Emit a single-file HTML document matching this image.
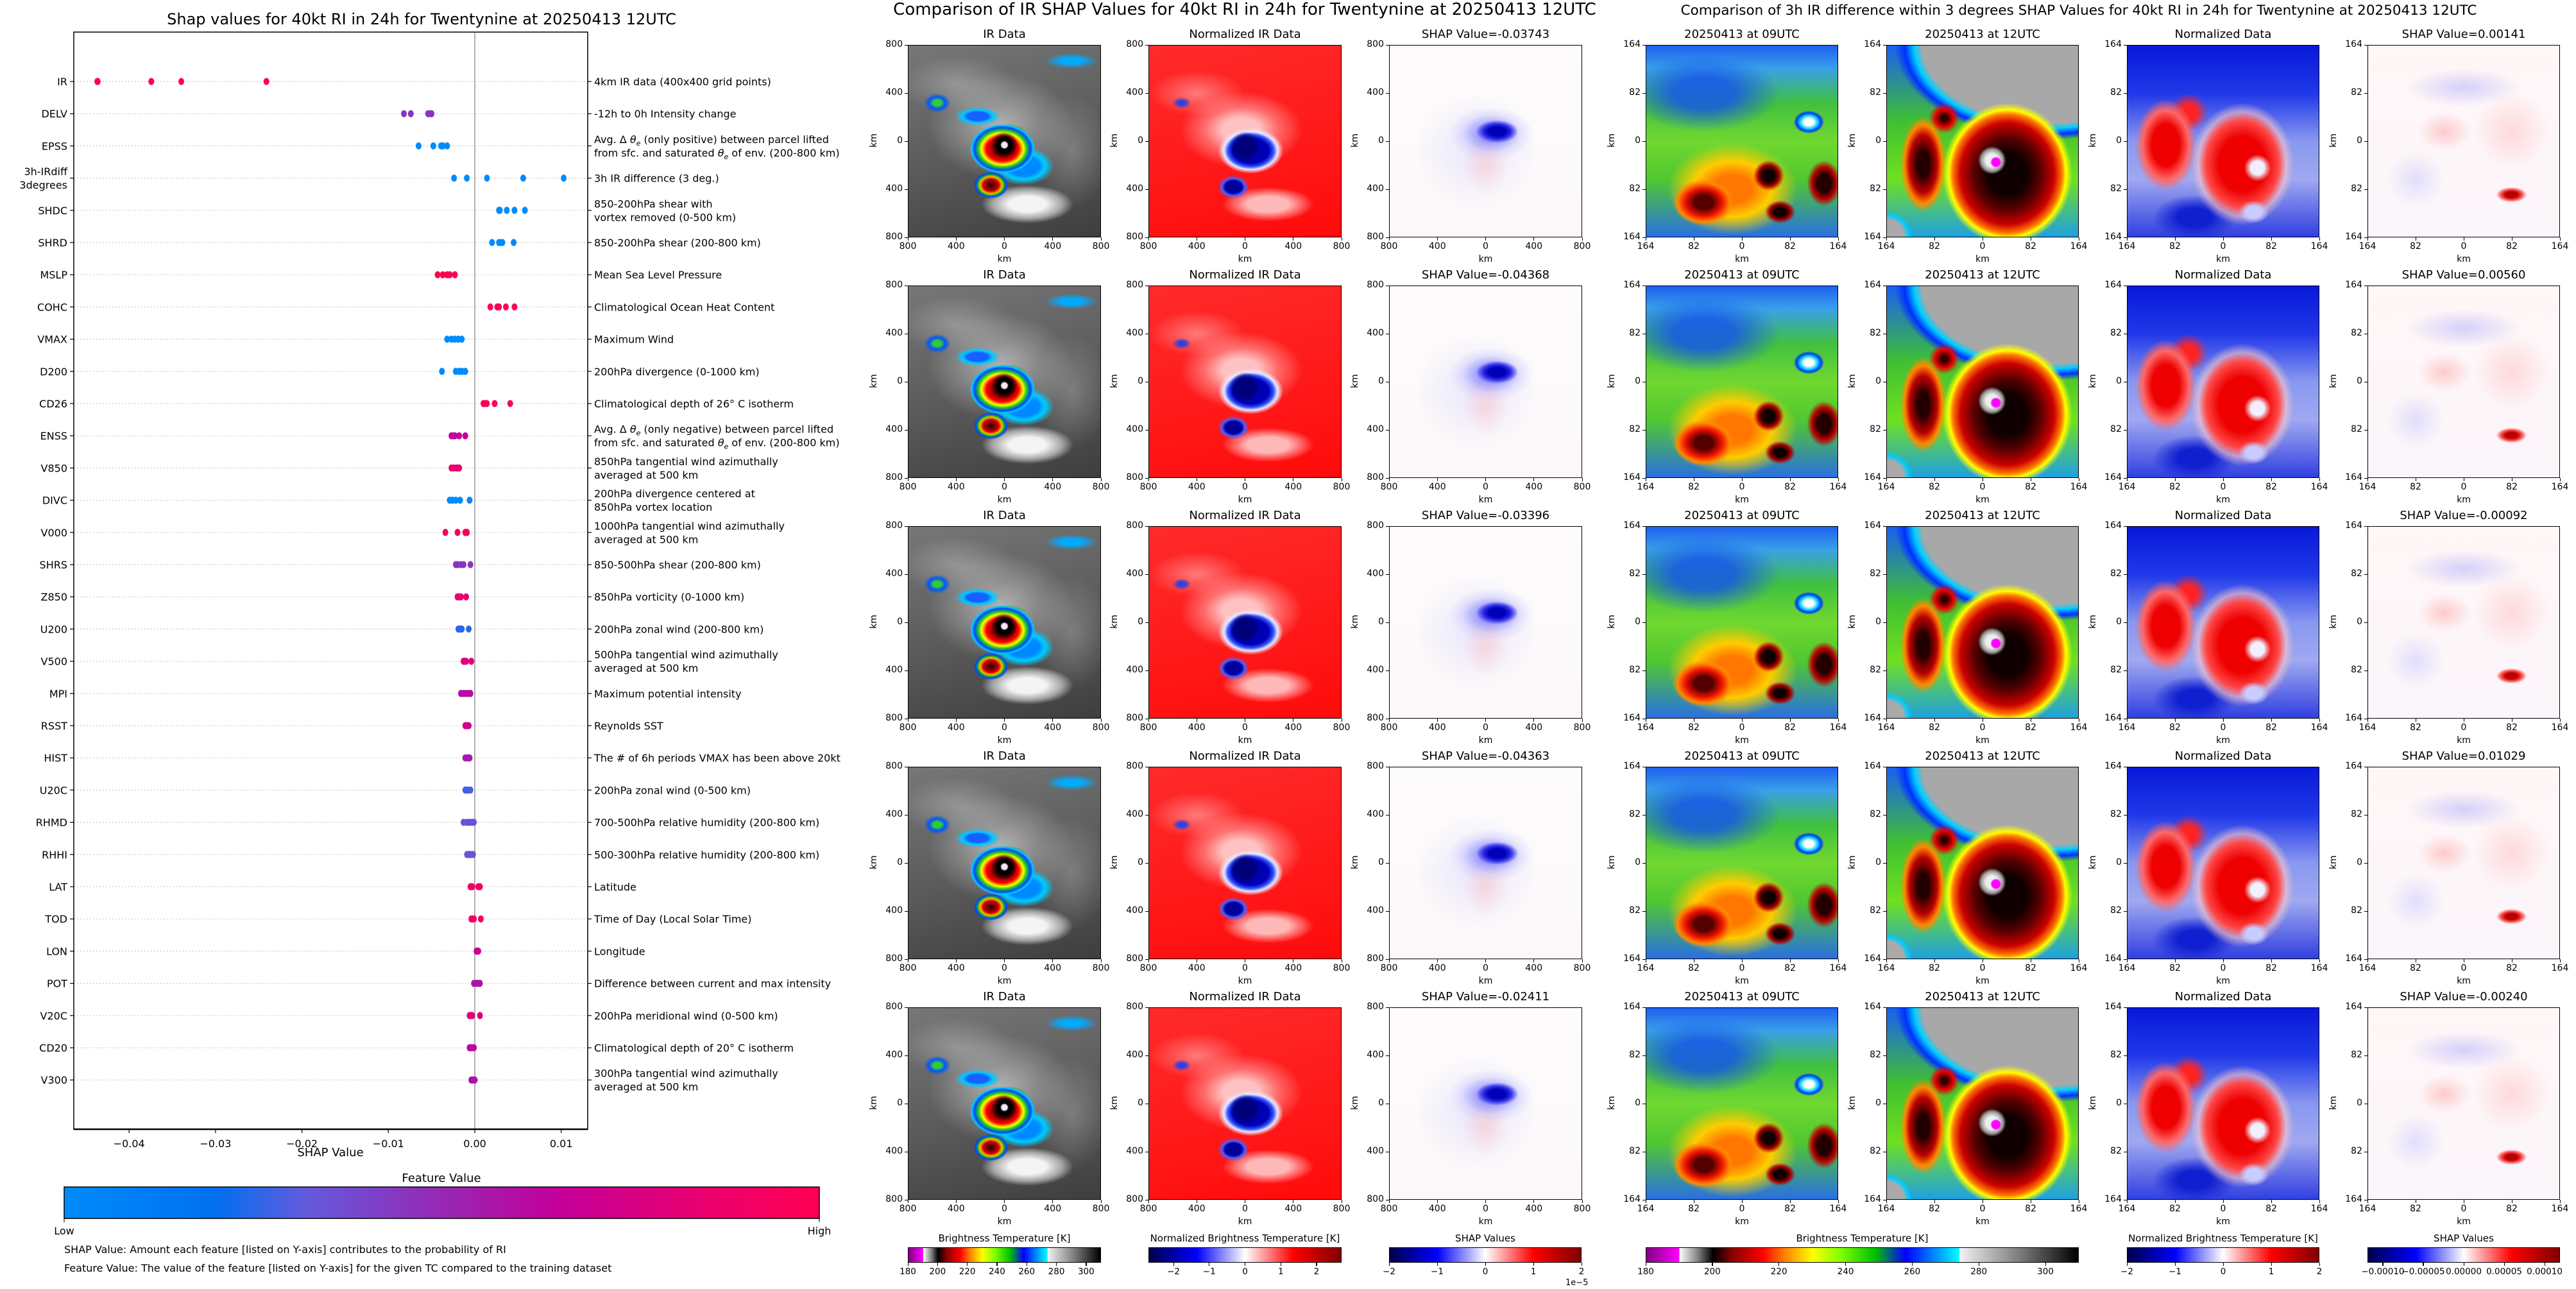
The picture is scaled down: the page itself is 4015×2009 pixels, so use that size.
<!DOCTYPE html>
<html><head><meta charset="utf-8">
<style>
html,body{margin:0;padding:0;background:#fff;}
#page{position:relative;width:4015px;height:2009px;overflow:hidden;font-family:"DejaVu Sans","Liberation Sans",sans-serif;color:#000;}
.abs{position:absolute;}
.panel{position:absolute;box-sizing:border-box;border:1.5px solid #000;}
.ttl{position:absolute;text-align:center;white-space:nowrap;}
.tick{position:absolute;background:#000;}
.tl{position:absolute;font-size:14px;white-space:nowrap;}
.ir{background:
 radial-gradient(circle at 50% 52%, #f4e8f4 0 2%, transparent 3%),
 radial-gradient(ellipse 7% 7% at 50% 52%, #000 0 55%, transparent 100%),
 radial-gradient(ellipse 17% 13% at 49% 54%, #300 0%, #900 30%, #f00 50%, #ff0 64%, #2c2 74%, #04f 86%, #0cf 94%, transparent 100%),
 radial-gradient(ellipse 9% 7% at 43% 73%, #200 0, #c00 45%, #fb0 65%, #1b1 75%, #04f 88%, transparent 100%),
 radial-gradient(ellipse 12% 5% at 36% 37%, #1560ff 0 45%, #00c8ff 65%, transparent 100%),
 radial-gradient(ellipse 10% 5% at 52% 46%, #1560ff 0 40%, #0a0 55%, transparent 100%),
 radial-gradient(ellipse 16% 10% at 60% 63%, #08f 0 50%, #0cf 70%, transparent 100%),
 radial-gradient(ellipse 7% 5% at 15% 30%, #3c3 0 30%, #05f 60%, transparent 100%),
 radial-gradient(ellipse 14% 4% at 85% 8%, #0af 0 40%, transparent 100%),
 radial-gradient(ellipse 24% 10% at 62% 83%, #f4f4f4 0 40%, rgba(255,255,255,0.5) 75%, transparent 100%),
 radial-gradient(ellipse 38% 28% at 48% 42%, rgba(235,235,235,0.6), transparent 100%),
 radial-gradient(ellipse 30% 15% at 25% 20%, rgba(210,210,210,0.4), transparent 100%),
 radial-gradient(ellipse 20% 30% at 85% 55%, rgba(200,200,200,0.35), transparent 100%),
 linear-gradient(165deg,#777 0%,#5c5c5c 50%,#3e3e3e 100%);}
.nir{background:
 radial-gradient(ellipse 8% 8% at 50% 53%, #00007a 0 60%, transparent 100%),
 radial-gradient(ellipse 17% 12% at 53% 55%, #0000b4 0 55%, #3050ff 70%, #e8e8ff 82%, transparent 100%),
 radial-gradient(ellipse 8% 6% at 44% 74%, #00009a 0 55%, #5060ff 75%, transparent 100%),
 radial-gradient(ellipse 5% 3% at 17% 30%, #3040e0 0 40%, transparent 100%),
 radial-gradient(ellipse 24% 9% at 62% 83%, #ffb8b8 0 45%, transparent 100%),
 radial-gradient(ellipse 32% 20% at 48% 44%, rgba(255,235,235,0.8) 0 30%, rgba(255,200,200,0.45) 60%, transparent 100%),
 radial-gradient(ellipse 25% 12% at 25% 25%, rgba(255,210,210,0.5), transparent 100%),
 linear-gradient(165deg,#ff2a2a 0%,#ff1818 60%,#ff0a0a 100%);}
.sir{background:
 radial-gradient(ellipse 11% 6% at 56% 45%, #0000b8 0 40%, #2a2ae6 65%, transparent 100%),
 radial-gradient(ellipse 22% 14% at 53% 46%, rgba(90,90,255,0.55) 0 30%, rgba(150,150,255,0.2) 70%, transparent 100%),
 radial-gradient(ellipse 12% 16% at 50% 62%, rgba(255,170,170,0.35), transparent 100%),
 radial-gradient(ellipse 32% 30% at 45% 55%, rgba(180,180,255,0.28), transparent 100%),
 linear-gradient(#fdfbfc,#fcf8fa);}
.t09{background:
 radial-gradient(ellipse 8% 8% at 64% 68%, #100 0 40%, #a00 70%, transparent 100%),
 radial-gradient(ellipse 8% 6% at 70% 87%, #100 0 40%, #a00 70%, transparent 100%),
 radial-gradient(ellipse 9% 12% at 93% 72%, #200 0 40%, #b00 70%, transparent 100%),
 radial-gradient(ellipse 16% 12% at 30% 82%, #500 0 30%, #e10 60%, #f80 85%, transparent 100%),
 radial-gradient(ellipse 34% 24% at 45% 75%, #f70 0 30%, #fc0 60%, transparent 100%),
 radial-gradient(ellipse 8% 6% at 85% 40%, #fff 0 30%, #0cf 60%, #03f 80%, transparent 100%),
 radial-gradient(ellipse 40% 20% at 30% 25%, rgba(20,80,240,0.8) 0 40%, transparent 100%),
 linear-gradient(180deg,#1e60f0 0%,#3aa0e8 12%,#40c040 30%,#70d830 50%,#50c830 70%,#2a70e0 100%);}
.t12{background:
 radial-gradient(circle at 57% 61%, #f0f 0 2.5%, transparent 3.5%),
 radial-gradient(circle at 55% 60%, #eee 0 4%, #999 7%, transparent 9%),
 radial-gradient(ellipse 34% 37% at 63% 67%, #100 0 30%, #500 50%, #c00 72%, #f70 84%, #ff0 90%, transparent 100%),
 radial-gradient(ellipse 12% 25% at 19% 62%, #200 0 25%, #b00 60%, #f80 82%, transparent 100%),
 radial-gradient(ellipse 8% 8% at 30% 38%, #300 0 20%, #e00 60%, transparent 100%),
 radial-gradient(ellipse 85% 52% at 85% 0%, #a8a8a8 0 78%, #00d0ff 83%, #0030ff 89%, transparent 95%),
 radial-gradient(ellipse 15% 15% at 0% 100%, #aaa 0 60%, #0cf 75%, transparent 90%),
 linear-gradient(180deg,#1a60f0 0%,#40c030 40%,#70e020 70%,#20a0e0 100%);}
.n12{background:
 radial-gradient(ellipse 7% 7% at 68% 64%, #f0f0ff 0 50%, transparent 100%),
 radial-gradient(ellipse 8% 6% at 66% 87%, #c8ccff 0 50%, transparent 100%),
 radial-gradient(ellipse 27% 32% at 60% 62%, #e00 0 45%, #f44 70%, rgba(255,200,200,0.6) 85%, transparent 100%),
 radial-gradient(ellipse 16% 24% at 20% 52%, #e00 0 45%, #f66 75%, transparent 100%),
 radial-gradient(ellipse 10% 10% at 32% 35%, #f22 0 40%, transparent 100%),
 radial-gradient(ellipse 22% 12% at 35% 90%, #1020d0 0 40%, transparent 100%),
 linear-gradient(180deg,#0818d8 0%,#2038e8 25%,#8898f0 50%,#a0a8f0 70%,#3040e0 100%);}
.s12{background:
 radial-gradient(ellipse 8% 4% at 75% 78%, #b00 0 40%, #f55 70%, transparent 100%),
 radial-gradient(ellipse 14% 10% at 40% 45%, rgba(255,120,120,0.35), transparent 100%),
 radial-gradient(ellipse 30% 10% at 50% 22%, rgba(120,120,255,0.3), transparent 100%),
 radial-gradient(ellipse 20% 20% at 75% 45%, rgba(255,150,150,0.3), transparent 100%),
 radial-gradient(ellipse 15% 15% at 25% 70%, rgba(150,150,255,0.25), transparent 100%),
 linear-gradient(#fff6f6,#fbf6fb);}
</style></head>
<body>
<div id="page">
<svg id="shapsvg" class="abs" style="left:0;top:0" width="1340" height="2009"></svg>
<div class="ttl" style="left:1340px;width:1200px;top:0px;font-size:26px;">Comparison of IR SHAP Values for 40kt RI in 24h for Twentynine at 20250413 12UTC</div>
<div class="ttl" style="left:2540px;width:1400px;top:4px;font-size:21.5px;">Comparison of 3h IR difference within 3 degrees SHAP Values for 40kt RI in 24h for Twentynine at 20250413 12UTC</div>
</div>
<script>
// ---------- SHAP summary data ----------
const features = ["IR","DELV","EPSS","3h-IRdiff\n3degrees","SHDC","SHRD","MSLP","COHC","VMAX","D200","CD26","ENSS","V850","DIVC","V000","SHRS","Z850","U200","V500","MPI","RSST","HIST","U20C","RHMD","RHHI","LAT","TOD","LON","POT","V20C","CD20","V300"];
const descriptions = [
"4km IR data (400x400 grid points)",
"-12h to 0h Intensity change",
"Avg. Δ θ_e (only positive) between parcel lifted\nfrom sfc. and saturated θ_e of env. (200-800 km)",
"3h IR difference (3 deg.)",
"850-200hPa shear with\nvortex removed (0-500 km)",
"850-200hPa shear (200-800 km)",
"Mean Sea Level Pressure",
"Climatological Ocean Heat Content",
"Maximum Wind",
"200hPa divergence (0-1000 km)",
"Climatological depth of 26° C isotherm",
"Avg. Δ θ_e (only negative) between parcel lifted\nfrom sfc. and saturated θ_e of env. (200-800 km)",
"850hPa tangential wind azimuthally\naveraged at 500 km",
"200hPa divergence centered at\n850hPa vortex location",
"1000hPa tangential wind azimuthally\naveraged at 500 km",
"850-500hPa shear (200-800 km)",
"850hPa vorticity (0-1000 km)",
"200hPa zonal wind (200-800 km)",
"500hPa tangential wind azimuthally\naveraged at 500 km",
"Maximum potential intensity",
"Reynolds SST",
"The # of 6h periods VMAX has been above 20kt",
"200hPa zonal wind (0-500 km)",
"700-500hPa relative humidity (200-800 km)",
"500-300hPa relative humidity (200-800 km)",
"Latitude",
"Time of Day (Local Solar Time)",
"Longitude",
"Difference between current and max intensity",
"200hPa meridional wind (0-500 km)",
"Climatological depth of 20° C isotherm",
"300hPa tangential wind azimuthally\naveraged at 500 km"];
const shapValues = [
[-0.04368,-0.04363,-0.03743,-0.03396,-0.02411],
[-0.0082,-0.0074,-0.0054,-0.0051,-0.0050],
[-0.0065,-0.0048,-0.0039,-0.0037,-0.0032],
[-0.00240,-0.00092,0.00141,0.00560,0.01029],
[0.0028,0.0037,0.0046,0.0058,0.0029],
[0.0020,0.0028,0.0032,0.0045,0.0029],
[-0.0043,-0.0037,-0.0032,-0.0029,-0.0023],
[0.0018,0.0026,0.0028,0.0036,0.0046],
[-0.0032,-0.0027,-0.0023,-0.0019,-0.0015],
[-0.0038,-0.0022,-0.0018,-0.0015,-0.0011],
[0.0010,0.0012,0.0014,0.0023,0.0041],
[-0.0027,-0.0025,-0.0023,-0.0018,-0.0011],
[-0.0027,-0.0024,-0.0021,-0.0018,-0.0020],
[-0.0029,-0.0026,-0.0022,-0.0017,-0.0006],
[-0.0034,-0.0020,-0.0011,-0.0009,-0.0010],
[-0.0022,-0.0020,-0.0016,-0.0013,-0.0005],
[-0.0020,-0.0018,-0.0016,-0.0010,-0.0019],
[-0.0019,-0.0016,-0.0015,-0.0007,-0.0017],
[-0.0013,-0.0011,-0.0010,-0.0004,-0.0012],
[-0.0016,-0.0013,-0.0010,-0.0007,-0.0005],
[-0.0011,-0.0010,-0.0009,-0.0007,-0.0010],
[-0.0011,-0.0009,-0.0007,-0.0006,-0.0008],
[-0.0011,-0.0009,-0.0008,-0.0005,-0.0010],
[-0.0013,-0.0009,-0.0006,-0.0003,-0.0001],
[-0.0009,-0.0006,-0.0004,-0.0002,-0.0007],
[-0.0005,-0.0003,0.0004,0.0006,-0.0004],
[-0.0004,-0.0001,0.0007,-0.0003,-0.0002],
[0.0002,0.0004,0.0004,0.0003,0.0003],
[-0.0001,0.0002,0.0004,0.0006,0.0003],
[-0.0006,-0.0003,0.0006,-0.0005,-0.0004],
[-0.0006,-0.0004,-0.0001,-0.0005,-0.0003],
[-0.0004,-0.0002,0.0000,-0.0003,-0.0001]];
const featureLevels = [1,0.45,0,0,0,0,1,1,0,0,1,0.65,0.85,0,0.95,0.45,0.85,0.25,0.8,0.6,0.72,0.55,0.28,0.35,0.35,0.88,0.92,0.68,0.58,0.78,0.62,0.58];
const xTicks = [-0.04,-0.03,-0.02,-0.01,0.00,0.01];
const xTickLabels = ["\u22120.04","\u22120.03","\u22120.02","\u22120.01","0.00","0.01"];

// ---------- image panel data ----------
const irShapTitles = ["-0.03743","-0.04368","-0.03396","-0.04363","-0.02411"];
const diffShapTitles = ["0.00141","0.00560","-0.00092","0.01029","-0.00240"];
const kmTicks800 = ["800","400","0","400","800"];
const kmTicks164 = ["164","82","0","82","164"];
const btTicks = [180,200,220,240,260,280,300];
const normTicksA = [-2,-1,0,1,2];
const shapTicksB = [-2,-1,0,1,2];
const shapTicksC = [-0.0001,-0.00005,0,0.00005,0.0001];
const shapTicksCLabels = ["\u22120.00010","\u22120.00005","0.00000","0.00005","0.00010"];

const NS = "http://www.w3.org/2000/svg";
const svg = document.getElementById('shapsvg');
function sv(tag, attrs, parent){const e=document.createElementNS(NS,tag);for(const k in attrs)e.setAttribute(k,attrs[k]);(parent||svg).appendChild(e);return e;}

const AX_L=115, AX_R=916, AX_T=50, AX_B=1760, ZERO_X=740, PX_PER_UNIT=13470;
function xs(v){return ZERO_X+v*PX_PER_UNIT;}
function rowY(i){return 127+i*50.2;}
function lerp(a,b,t){return a+(b-a)*t;}
const cmapStops=[[0,[0,139,251]],[0.2,[0,112,240]],[0.32,[100,90,220]],[0.5,[150,40,180]],[0.65,[195,0,155]],[0.85,[235,0,110]],[1,[255,0,82]]];
function cmap(t){for(let i=1;i<cmapStops.length;i++){if(t<=cmapStops[i][0]){const a=cmapStops[i-1],b=cmapStops[i];const u=(t-a[0])/(b[0]-a[0]);return 'rgb('+a[1].map((c,j)=>Math.round(lerp(c,b[1][j],u))).join(',')+')';}}return 'rgb(255,0,82)';}

let t=sv('text',{x:657,y:38,'text-anchor':'middle','font-size':'24','font-family':'DejaVu Sans, sans-serif'});
t.textContent="Shap values for 40kt RI in 24h for Twentynine at 20250413 12UTC";



features.forEach((f,i)=>{
  const y=rowY(i);
  const g=sv('line',{x1:AX_L,x2:AX_R,y1:y,y2:y,stroke:'#ccc','stroke-width':1.2,'stroke-dasharray':'2,3'});
  
  
  sv('line',{x1:AX_L-6,x2:AX_L,y1:y,y2:y,stroke:'#000','stroke-width':1.2});
  sv('line',{x1:AX_R,x2:AX_R+6,y1:y,y2:y,stroke:'#000','stroke-width':1.2});
  const lines=f.split('\n');
  const lab=sv('text',{x:AX_L-10,y:y+6-(lines.length-1)*10.5,'text-anchor':'end','font-size':'16','font-family':'DejaVu Sans, sans-serif'});
  
  
  lines.forEach((ln,k)=>{const ts=sv('tspan',{x:AX_L-10,dy:k?21:0},lab);ts.textContent=ln;});
  const dl=descriptions[i].split('\n');
  const d=sv('text',{x:AX_R+10,y:y+6-(dl.length-1)*10.5,'font-size':'16','font-family':'DejaVu Sans, sans-serif'});
  
  
  dl.forEach((ln,k)=>{
    const parts=ln.split('θ_e');
    let first=true;
    parts.forEach((p,pi)=>{
      const ts=sv('tspan',first?{x:AX_R+10,dy:k?21:0}:{dy:-4},d);ts.textContent=p;first=false;
      if(pi<parts.length-1){const th=sv('tspan',{'font-style':'italic'},d);th.textContent='θ';const sub=sv('tspan',{'font-size':'11','font-style':'italic',dy:4},d);sub.textContent='e';}
    });
  });
});
const zl=sv('line',{x1:ZERO_X,x2:ZERO_X,y1:AX_T,y2:AX_B,stroke:'#999','stroke-width':1.5});


shapValues.forEach((vals,i)=>{
  vals.forEach((v,j)=>{
    const c=sv('ellipse',{cx:xs(v),cy:rowY(i),rx:4.5,ry:5.5,fill:cmap(featureLevels[i])});
    
    
  });
});
const fr=sv('rect',{x:AX_L,y:AX_T,width:AX_R-AX_L,height:AX_B-AX_T,fill:'none',stroke:'#000','stroke-width':1.5});


sv('line',{x1:AX_L,x2:AX_R,y1:AX_B,y2:AX_B,stroke:'#000','stroke-width':2.5});
xTicks.forEach((v,i)=>{
  sv('line',{x1:xs(v),x2:xs(v),y1:AX_B,y2:AX_B+6,stroke:'#000','stroke-width':1.2});
  const tx=sv('text',{x:xs(v),y:AX_B+28,'text-anchor':'middle','font-size':'16','font-family':'DejaVu Sans, sans-serif'});
  tx.textContent=xTickLabels[i];
  
  
});
let xt=sv('text',{x:515,y:1802,'text-anchor':'middle','font-size':'18','font-family':'DejaVu Sans, sans-serif'});
xt.textContent='SHAP Value';


const defs=sv('defs',{});
const lg=sv('linearGradient',{id:'fvgrad',x1:0,x2:1,y1:0,y2:0},defs);
cmapStops.forEach(s=>sv('stop',{offset:s[0],'stop-color':'rgb('+s[1].join(',')+')'},lg));
let ft=sv('text',{x:688,y:1842,'text-anchor':'middle','font-size':'18','font-family':'DejaVu Sans, sans-serif'});
ft.textContent='Feature Value';


const cb=sv('rect',{x:100,y:1850,width:1177,height:49,fill:'url(#fvgrad)',stroke:'#000','stroke-width':1.5});


sv('line',{x1:100,x2:100,y1:1899,y2:1905,stroke:'#000'});
sv('line',{x1:1277,x2:1277,y1:1899,y2:1905,stroke:'#000'});
[['Low',100],['High',1277]].forEach(([s,x])=>{const e=sv('text',{x:x,y:1924,'text-anchor':'middle','font-size':'16','font-family':'DejaVu Sans, sans-serif'});e.textContent=s;

});
[["SHAP Value: Amount each feature [listed on Y-axis] contributes to the probability of RI",1953],["Feature Value: The value of the feature [listed on Y-axis] for the given TC compared to the training dataset",1982]].forEach(([s,y],k)=>{const e=sv('text',{x:100,y:y,'font-size':'16','font-family':'DejaVu Sans, sans-serif'});e.textContent=s;

});

const page=document.getElementById('page');
function mk(cls,style,text){const d=document.createElement('div');d.className=cls;d.setAttribute('style',style);if(text!==undefined)d.textContent=text;page.appendChild(d);return d;}
const rowTops=[70,445,820,1195,1570];
function panel(x,y,w,h,cls,title,ticks,name){
  const p=mk('panel '+cls,`left:${x}px;top:${y}px;width:${w}px;height:${h}px;`);
  
  
  const tt=mk('ttl',`left:${x-60}px;width:${w+120}px;top:${y-27}px;font-size:18px;`,title);
  
  
  for(let i=0;i<5;i++){
    const yy=y+i*h/4, xx=x+i*w/4;
    mk('tick',`left:${x-5}px;top:${yy-0.5}px;width:5px;height:1.2px;`);
    const yl=mk('tl',`left:${x-60}px;width:52px;text-align:right;top:${yy-9}px;`,ticks[i]);
    
    
    mk('tick',`left:${xx-0.5}px;top:${y+h}px;width:1.2px;height:5px;`);
    const xl=mk('tl',`left:${xx-30}px;width:60px;text-align:center;top:${y+h+6}px;`,ticks[i]);
    
    
  }
  const kx=mk('tl',`left:${x+w/2-20}px;width:40px;text-align:center;top:${y+h+26}px;`,'km');
  
  
  const ky=mk('tl',`left:${x-64}px;top:${y+h/2-9}px;transform:rotate(-90deg);`,'km');
  
  
}
rowTops.forEach((y,r)=>{
  panel(1415,y,301,300,'ir','IR Data',kmTicks800,'ir-data-panel-'+(r+1));
  panel(1790,y,301,300,'nir','Normalized IR Data',kmTicks800,'normalized-ir-panel-'+(r+1));
  panel(2165,y,301,300,'sir','SHAP Value='+irShapTitles[r],kmTicks800,'ir-shap-panel-'+(r+1));
  panel(2565,y,300,300,'t09','20250413 at 09UTC',kmTicks164,'ir-09utc-panel-'+(r+1));
  panel(2940,y,300,300,'t12','20250413 at 12UTC',kmTicks164,'ir-12utc-panel-'+(r+1));
  panel(3315,y,300,300,'n12','Normalized Data',kmTicks164,'normalized-data-panel-'+(r+1));
  panel(3690,y,300,300,'s12','SHAP Value='+diffShapTitles[r],kmTicks164,'diff-shap-panel-'+(r+1));
});

const BT_GRAD='linear-gradient(90deg,#800080 0%,#ff00ff 7.6%,#ffffff 7.7%,#808080 12%,#000 15.4%,#8b0000 20%,#ff0000 27%,#ff8000 32%,#ffff00 38.5%,#80ff00 45%,#00c000 53%,#0000ff 60%,#00ffff 72.4%,#f2f2f2 72.6%,#808080 86%,#000 100%)';
const SEIS='linear-gradient(90deg,#00004c 0%,#0000ff 25%,#ffffff 50%,#ff0000 75%,#800000 100%)';
function colorbar(x,w,grad,title,vals,labels,vmin,vmax,name){
  const tt=mk('ttl',`left:${x-100}px;width:${w+200}px;top:1921px;font-size:15px;`,title);
  
  
  const b=mk('abs',`left:${x}px;top:1944px;width:${w}px;height:24px;box-sizing:border-box;border:1.5px solid #000;background:${grad};`);
  
  
  vals.forEach((v,i)=>{
    const px=x+(v-vmin)/(vmax-vmin)*w;
    mk('tick',`left:${px-0.5}px;top:1968px;width:1.2px;height:5px;`);
    const l=mk('tl',`left:${px-40}px;width:80px;text-align:center;top:1974px;font-size:13.5px;`,labels[i]);
    
    
  });
}
colorbar(1415,301,BT_GRAD,'Brightness Temperature [K]',btTicks,btTicks.map(String),180,310,'bt-colorbar-ir');
colorbar(1790,301,SEIS,'Normalized Brightness Temperature [K]',normTicksA,normTicksA.map(v=>v<0?'\u2212'+(-v):String(v)),-2.7,2.7,'norm-colorbar-ir');
colorbar(2165,300,SEIS,'SHAP Values',shapTicksB,shapTicksB.map(v=>v<0?'\u2212'+(-v):String(v)),-2,2,'shap-colorbar-ir');
const ex=mk('tl',`left:2440px;top:1992px;font-size:13px;`,'1e\u22125');


colorbar(2565,675,BT_GRAD,'Brightness Temperature [K]',btTicks,btTicks.map(String),180,310,'bt-colorbar-diff');
colorbar(3315,300,SEIS,'Normalized Brightness Temperature [K]',normTicksA,normTicksA.map(v=>v<0?'\u2212'+(-v):String(v)),-2,2,'norm-colorbar-diff');
colorbar(3690,300,SEIS,'SHAP Values',shapTicksC,shapTicksCLabels,-0.000119,0.000119,'shap-colorbar-diff');
</script>
</body></html>
